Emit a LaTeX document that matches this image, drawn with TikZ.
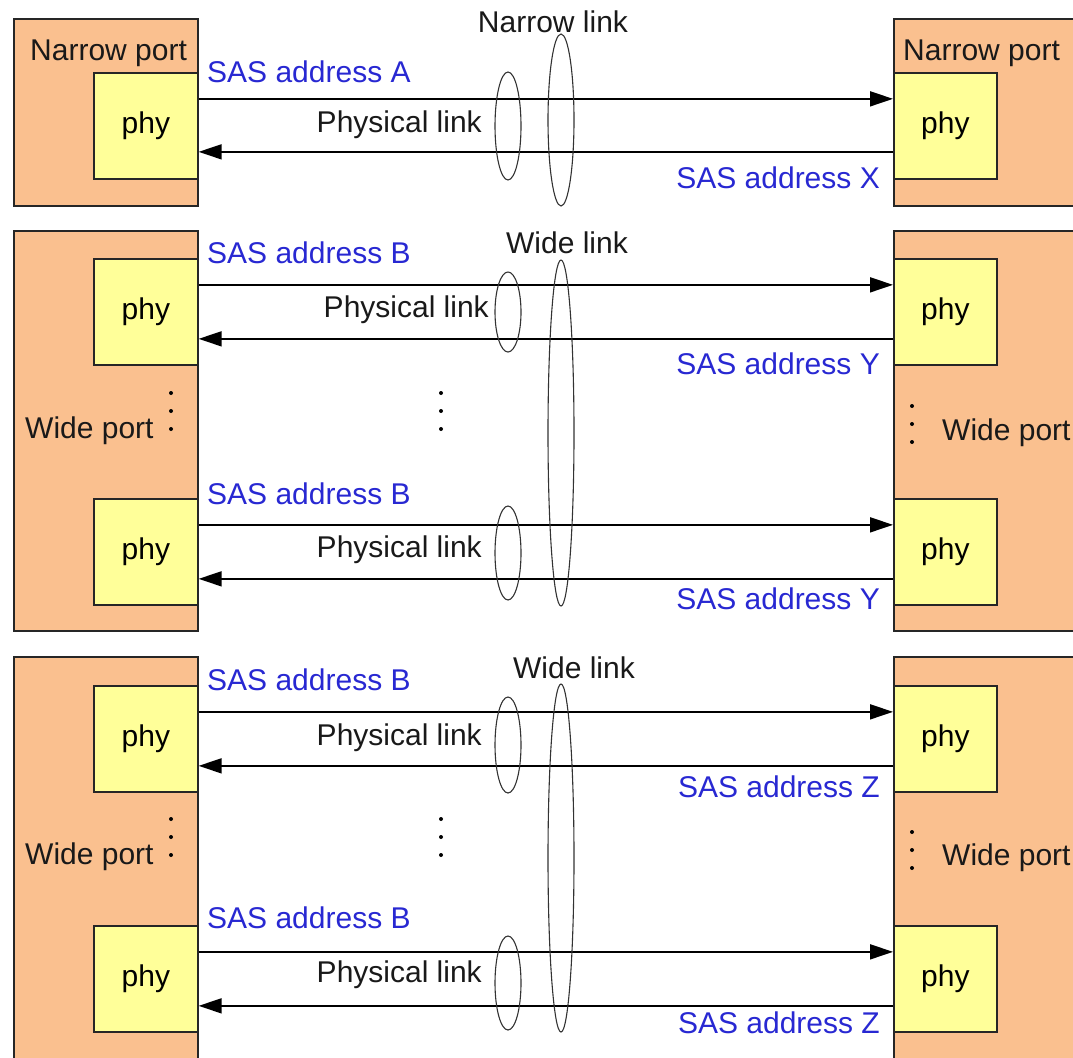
\documentclass[tikz,border=0pt]{standalone}
\usepackage{fontspec}
\setmainfont{Liberation Sans}
\usepackage{tikz}
\usetikzlibrary{arrows.meta}
\definecolor{portfill}{RGB}{250,192,143}
\definecolor{phyfill}{RGB}{255,255,153}
\definecolor{addrblue}{RGB}{40,40,210}

\begin{document}
\begin{tikzpicture}[x=1pt, y=-1pt,
	port/.style={draw=black!85, fill=portfill, line width=1.7pt, inner sep=0pt, anchor=north west},
	phy/.style={draw=black!85, fill=phyfill, line width=1.7pt, inner sep=0pt, anchor=north west, minimum height=106pt, font=\fontsize{30}{35}\selectfont},
	txt/.style={inner sep=0pt, text=black!90, font=\fontsize{30}{35}\selectfont},
	addr/.style={txt, text=addrblue},
	lnk/.style={line width=1.8pt, -{Triangle[length=23pt, width=15pt]}},
	ring/.style={draw=black!80, line width=1.1pt}]
		\useasboundingbox (0,0) rectangle (1073,1057);
		\clip (0,0) rectangle (1073,1057);
		% narrow ports
		\node[port, minimum width=184pt, minimum height=187pt] (portA) at (13,18) {};
		\node[port, minimum width=200pt, minimum height=187pt] (portX) at (893,18) {};
		\node[txt, anchor=west] (nameA) at (30,53) {Narrow port};
		\node[txt, anchor=west] (nameX) at (903,53) {Narrow port};
		\node[phy, minimum width=104pt] (phyA) at (93,72) {phy};
		\node[phy, minimum width=103pt] (phyX) at (893,72) {phy};
		\draw[lnk] ([yshift=27pt]phyA.east) -- ([yshift=27pt]phyX.west);
		\draw[lnk] ([yshift=-26pt]phyX.west) -- ([yshift=-26pt]phyA.east);
		\node[addr, anchor=west] (addrA) at (207,72) {SAS address A};
		\node[addr, anchor=east] (addrX) at (880,178) {SAS address X};
		\node[txt, anchor=east] (plA) at (482,125) {Physical link};
		\draw[ring] (508,126) ellipse [x radius=13pt, y radius=54pt];
		\draw[ring] (561,120) ellipse [x radius=13pt, y radius=86pt];
		\node[txt] (nlink) at (553,22) {Narrow link};
		% wide ports, first pair
		\node[port, minimum width=184pt, minimum height=400pt] (portB) at (13,230) {};
		\node[port, minimum width=200pt, minimum height=400pt] (portY) at (893,230) {};
		\node[phy, minimum width=104pt] (phyB1) at (93,258) {phy};
		\node[phy, minimum width=104pt] (phyB2) at (93,498) {phy};
		\node[phy, minimum width=103pt] (phyY1) at (893,258) {phy};
		\node[phy, minimum width=103pt] (phyY2) at (893,498) {phy};
		\node[txt, anchor=west] (nameB) at (25,431) {Wide port};
		\node[txt, anchor=west] (nameY) at (942,433) {Wide port};
		\draw[lnk] ([yshift=27pt]phyB1.east) -- ([yshift=27pt]phyY1.west);
		\draw[lnk] ([yshift=-27pt]phyY1.west) -- ([yshift=-27pt]phyB1.east);
		\draw[lnk] ([yshift=27pt]phyB2.east) -- ([yshift=27pt]phyY2.west);
		\draw[lnk] ([yshift=-27pt]phyY2.west) -- ([yshift=-27pt]phyB2.east);
		\node[addr, anchor=west] (addrB1) at (207,253) {SAS address B};
		\node[addr, anchor=west] (addrB2) at (207,494) {SAS address B};
		\node[addr, anchor=east] (addrY1) at (880,364) {SAS address Y};
		\node[addr, anchor=east] (addrY2) at (880,599) {SAS address Y};
		\node[txt, anchor=east] (plB1) at (489,310) {Physical link};
		\node[txt, anchor=east] (plB2) at (482,550) {Physical link};
		\draw[ring] (508,312) ellipse [x radius=13pt, y radius=40pt];
		\draw[ring] (508,553) ellipse [x radius=13pt, y radius=47pt];
		\draw[ring] (561,433) ellipse [x radius=13pt, y radius=173pt];
		\node[txt] (wlink1) at (567,243) {Wide link};
		\foreach \y in {393,411,429} {
			\fill (171,\y) circle (2pt);
			\fill (441,\y) circle (2pt);
			\fill (912,\y+13) circle (2pt);
		}
		% wide ports, second pair
		\node[port, minimum width=184pt, minimum height=420pt] (portC) at (13,656) {};
		\node[port, minimum width=200pt, minimum height=420pt] (portZ) at (893,656) {};
		\node[phy, minimum width=104pt] (phyC1) at (93,685) {phy};
		\node[phy, minimum width=104pt] (phyC2) at (93,925) {phy};
		\node[phy, minimum width=103pt] (phyZ1) at (893,685) {phy};
		\node[phy, minimum width=103pt] (phyZ2) at (893,925) {phy};
		\node[txt, anchor=west] (nameC) at (25,857) {Wide port};
		\node[txt, anchor=west] (nameZ) at (942,858) {Wide port};
		\draw[lnk] ([yshift=27pt]phyC1.east) -- ([yshift=27pt]phyZ1.west);
		\draw[lnk] ([yshift=-27pt]phyZ1.west) -- ([yshift=-27pt]phyC1.east);
		\draw[lnk] ([yshift=27pt]phyC2.east) -- ([yshift=27pt]phyZ2.west);
		\draw[lnk] ([yshift=-27pt]phyZ2.west) -- ([yshift=-27pt]phyC2.east);
		\node[addr, anchor=west] (addrC1) at (207,680) {SAS address B};
		\node[addr, anchor=west] (addrC2) at (207,918) {SAS address B};
		\node[addr, anchor=east] (addrZ1) at (880,787) {SAS address Z};
		\node[addr, anchor=east] (addrZ2) at (880,1023) {SAS address Z};
		\node[txt, anchor=east] (plC1) at (482,738) {Physical link};
		\node[txt, anchor=east] (plC2) at (482,975) {Physical link};
		\draw[ring] (508,745) ellipse [x radius=13pt, y radius=48pt];
		\draw[ring] (508,983) ellipse [x radius=13pt, y radius=47pt];
		\draw[ring] (561,858) ellipse [x radius=13pt, y radius=174pt];
		\node[txt] (wlink2) at (574,668) {Wide link};
		\foreach \y in {819,837,855} {
			\fill (171,\y) circle (2pt);
			\fill (441,\y) circle (2pt);
			\fill (912,\y+13) circle (2pt);
		}
	\end{tikzpicture}
\end{document}
